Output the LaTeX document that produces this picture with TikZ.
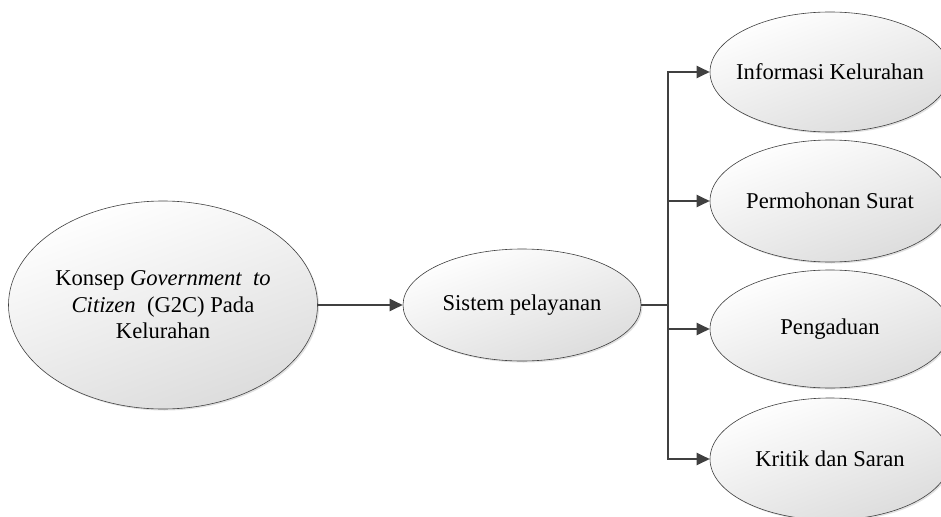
\documentclass[tikz,border=0pt]{standalone}
\usepackage{fontspec}
\setmainfont{Liberation Serif}
\usetikzlibrary{shapes.geometric,arrows.meta,shadows}
\definecolor{lncol}{HTML}{404040}
\definecolor{fillbot}{HTML}{DCDCDC}
\tikzset{
  oval/.style={ellipse, draw=lncol, line width=0.6pt, inner sep=0pt,
    top color=white, bottom color=fillbot, shading angle=20,
    drop shadow={shadow xshift=1.5pt, shadow yshift=-1.5pt, fill=black, opacity=0.12},
    font=\fontsize{22.6}{26.5}\selectfont, align=center},
  conn/.style={draw=lncol, line width=2.2pt},
  arr/.style={conn, -{Triangle[length=13pt,width=12pt]}}
}
\newcommand{\zw}[1]{\makebox[0pt]{#1}}
\begin{document}
\begin{tikzpicture}[x=1pt,y=-1pt]
\useasboundingbox (0,0) rectangle (941,516);
\node[oval, minimum width=309pt, minimum height=208pt] (g2c) at (163,305)
  {Konsep \textit{Government\ \ to}\\\textit{Citizen}\ \ (G2C) Pada\\Kelurahan};
\node[oval, minimum width=238pt, minimum height=112pt] (sys) at (522,305) {\zw{Sistem pelayanan}};
\node[oval, minimum width=240pt, minimum height=120pt] (e1) at (830,72) {\zw{Informasi Kelurahan}};
\node[oval, minimum width=240pt, minimum height=122pt] (e2) at (830,201) {\zw{Permohonan Surat}};
\node[oval, minimum width=240pt, minimum height=118pt] (e3) at (830,329) {\zw{Pengaduan}};
\node[oval, minimum width=240pt, minimum height=122pt] (e4) at (830,459) {\zw{Kritik dan Saran}};
\coordinate (j) at (668,305);
\draw[arr] (g2c.east) -- (sys.west);
\draw[conn] (sys.east) -- (j);
\draw[arr] (j) |- (e1.west);
\draw[arr] (j) |- (e2.west);
\draw[arr] (j) |- (e3.west);
\draw[arr] (j) |- (e4.west);
\end{tikzpicture}
\end{document}
